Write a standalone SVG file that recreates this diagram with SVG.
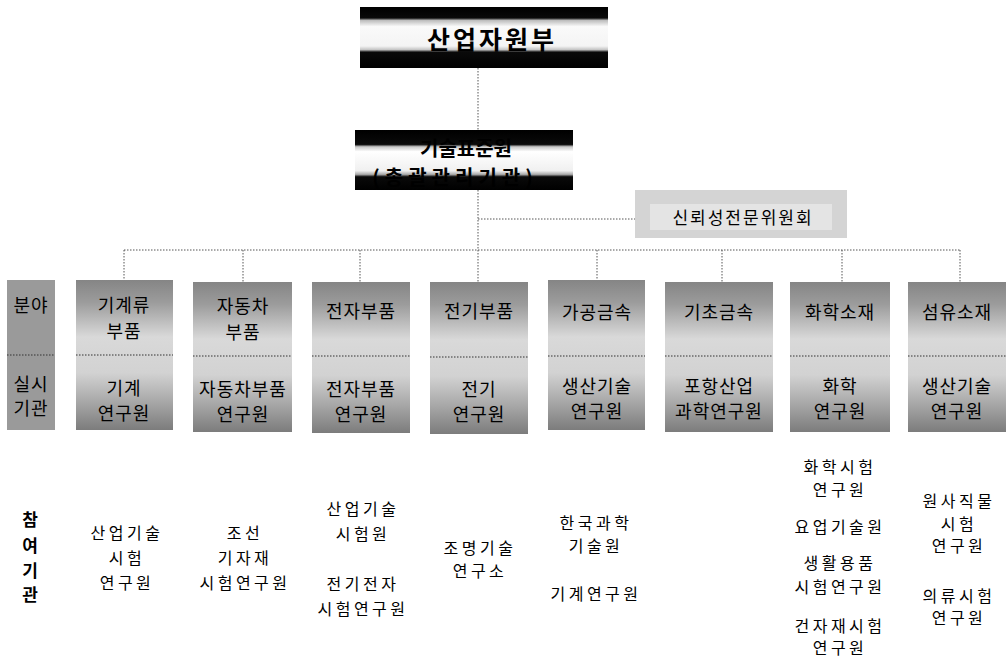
<svg xmlns="http://www.w3.org/2000/svg" width="1008" height="660" viewBox="0 0 1008 660">
<defs>
<linearGradient id="gbox" x1="0" y1="0" x2="0" y2="1">
<stop offset="0" stop-color="#858585"/>
<stop offset="0.15" stop-color="#9c9c9c"/>
<stop offset="0.38" stop-color="#d9d9d9"/>
<stop offset="0.62" stop-color="#d2d2d2"/>
<stop offset="0.82" stop-color="#a6a6a6"/>
<stop offset="1" stop-color="#7c7c7c"/>
</linearGradient>
<linearGradient id="gtop" x1="0" y1="0" x2="0" y2="1">
<stop offset="0" stop-color="#000"/>
<stop offset="0.18" stop-color="#0a0a0a"/>
<stop offset="0.22" stop-color="#bdbdbd"/>
<stop offset="0.32" stop-color="#fafafa"/>
<stop offset="0.64" stop-color="#f4f4f4"/>
<stop offset="0.7" stop-color="#c4c4c4"/>
<stop offset="0.74" stop-color="#0a0a0a"/>
<stop offset="1" stop-color="#000"/>
</linearGradient>
<linearGradient id="gmid" x1="0" y1="0" x2="0" y2="1">
<stop offset="0" stop-color="#000"/>
<stop offset="0.24" stop-color="#0a0a0a"/>
<stop offset="0.28" stop-color="#c8c8c8"/>
<stop offset="0.36" stop-color="#fff"/>
<stop offset="0.68" stop-color="#f0f0f0"/>
<stop offset="0.74" stop-color="#aaa"/>
<stop offset="0.78" stop-color="#0a0a0a"/>
<stop offset="1" stop-color="#000"/>
</linearGradient>
</defs>
<style>
text{font-family:"Noto Sans CJK KR","Noto Sans",sans-serif;fill:#000;text-anchor:middle;dominant-baseline:central}
.c{stroke:#555;stroke-width:1;stroke-dasharray:1.5 1.5;fill:none}
.sep{stroke:#333;stroke-width:1;stroke-dasharray:1.5 1.5}
.box{fill:url(#gbox)}
.t{font-size:18px;letter-spacing:1px}
.p{font-size:16px;letter-spacing:3.5px}
.h{font-size:17px;font-weight:bold}
</style>
<rect width="1008" height="660" fill="#fff"/>

<g id="connectors">
<line class="c" x1="478" y1="68" x2="478" y2="130"/>
<line class="c" x1="478" y1="190" x2="478" y2="250"/>
<line class="c" x1="478" y1="219" x2="635" y2="219"/>
<line class="c" x1="124" y1="250" x2="960" y2="250"/>
<line class="c" x1="124" y1="250" x2="124" y2="280"/>
<line class="c" x1="243" y1="250" x2="243" y2="282"/>
<line class="c" x1="360" y1="250" x2="360" y2="282"/>
<line class="c" x1="478" y1="250" x2="478" y2="282"/>
<line class="c" x1="597" y1="250" x2="597" y2="280"/>
<line class="c" x1="722" y1="250" x2="722" y2="282"/>
<line class="c" x1="842" y1="250" x2="842" y2="282"/>
<line class="c" x1="960" y1="250" x2="960" y2="282"/>
</g>

<g id="mocie">
<rect x="360" y="7" width="248" height="61" fill="url(#gtop)"/>
<text x="492" y="38" style="font-size:25px;font-weight:bold;letter-spacing:3px">산업자원부</text>
</g>

<g id="kats">
<rect x="355" y="130" width="218" height="60" fill="url(#gmid)"/>
<text x="466" y="147" style="font-size:20px;font-weight:bold">기술표준원</text>
<text x="455" y="176" style="font-size:20px;font-weight:bold;letter-spacing:5px">(총괄관리기관)</text>
</g>

<g id="committee">
<rect x="635" y="190" width="212" height="48" fill="#d4d4d4"/>
<rect x="650" y="204" width="182" height="26" fill="#e4e4e4"/>
<text x="743" y="216" style="font-size:17px;letter-spacing:2px">신뢰성전문위원회</text>
</g>

<g id="label-col">
<rect x="7" y="280" width="48" height="150" fill="#9a9a9a"/>
<line class="sep" x1="7" y1="355" x2="55" y2="355"/>
<text class="t" x="31" y="304">분야</text>
<text class="t" x="31" y="383">실시</text>
<text class="t" x="31" y="407">기관</text>
</g>

<g id="n1">
<rect class="box" x="76" y="280" width="97" height="150"/>
<line class="sep" x1="76" y1="355" x2="173" y2="355"/>
<text class="t" x="124" y="304">기계류</text>
<text class="t" x="124" y="330">부품</text>
<text class="t" x="124" y="387">기계</text>
<text class="t" x="124" y="412">연구원</text>
</g>

<g id="n2">
<rect class="box" x="193" y="282" width="99" height="150"/>
<line class="sep" x1="193" y1="356" x2="292" y2="356"/>
<text class="t" x="243" y="305">자동차</text>
<text class="t" x="243" y="331">부품</text>
<text class="t" x="243" y="388">자동차부품</text>
<text class="t" x="243" y="413">연구원</text>
</g>

<g id="n3">
<rect class="box" x="312" y="282" width="98" height="151"/>
<line class="sep" x1="312" y1="356" x2="410" y2="356"/>
<text class="t" x="361" y="310">전자부품</text>
<text class="t" x="361" y="388">전자부품</text>
<text class="t" x="361" y="413">연구원</text>
</g>

<g id="n4">
<rect class="box" x="430" y="282" width="98" height="152"/>
<line class="sep" x1="430" y1="357" x2="528" y2="357"/>
<text class="t" x="479" y="310">전기부품</text>
<text class="t" x="479" y="388">전기</text>
<text class="t" x="479" y="413">연구원</text>
</g>

<g id="n5">
<rect class="box" x="548" y="280" width="97" height="150"/>
<line class="sep" x1="548" y1="356" x2="645" y2="356"/>
<text class="t" x="597" y="311">가공금속</text>
<text class="t" x="597" y="385">생산기술</text>
<text class="t" x="597" y="410">연구원</text>
</g>

<g id="n6">
<rect class="box" x="665" y="282" width="108" height="150"/>
<line class="sep" x1="665" y1="356" x2="773" y2="356"/>
<text class="t" x="719" y="311">기초금속</text>
<text class="t" x="719" y="385">포항산업</text>
<text class="t" x="719" y="410">과학연구원</text>
</g>

<g id="n7">
<rect class="box" x="790" y="282" width="100" height="150"/>
<line class="sep" x1="790" y1="356" x2="890" y2="356"/>
<text class="t" x="840" y="311">화학소재</text>
<text class="t" x="840" y="385">화학</text>
<text class="t" x="840" y="410">연구원</text>
</g>

<g id="n8">
<rect class="box" x="908" y="282" width="98" height="150"/>
<line class="sep" x1="908" y1="356" x2="1006" y2="356"/>
<text class="t" x="957" y="311">섬유소재</text>
<text class="t" x="957" y="385">생산기술</text>
<text class="t" x="957" y="410">연구원</text>
</g>

<g id="participants">
<text class="h" x="30" y="518">참</text>
<text class="h" x="30" y="544">여</text>
<text class="h" x="30" y="569">기</text>
<text class="h" x="30" y="593">관</text>

<text class="p" x="127" y="532">산업기술</text>
<text class="p" x="127" y="557">시험</text>
<text class="p" x="127" y="582">연구원</text>

<text class="p" x="245" y="532">조선</text>
<text class="p" x="245" y="557">기자재</text>
<text class="p" x="245" y="582">시험연구원</text>

<text class="p" x="363" y="508">산업기술</text>
<text class="p" x="363" y="533">시험원</text>
<text class="p" x="363" y="583">전기전자</text>
<text class="p" x="363" y="608">시험연구원</text>

<text class="p" x="480" y="547">조명기술</text>
<text class="p" x="480" y="570">연구소</text>

<text class="p" x="596" y="522">한국과학</text>
<text class="p" x="596" y="545">기술원</text>
<text class="p" x="596" y="593">기계연구원</text>

<text class="p" x="840" y="466">화학시험</text>
<text class="p" x="840" y="489">연구원</text>
<text class="p" x="840" y="526">요업기술원</text>
<text class="p" x="840" y="562">생활용품</text>
<text class="p" x="840" y="586">시험연구원</text>
<text class="p" x="840" y="625">건자재시험</text>
<text class="p" x="840" y="647">연구원</text>

<text class="p" x="959" y="500">원사직물</text>
<text class="p" x="959" y="523">시험</text>
<text class="p" x="959" y="545">연구원</text>
<text class="p" x="959" y="595">의류시험</text>
<text class="p" x="959" y="617">연구원</text>
</g>
</svg>
